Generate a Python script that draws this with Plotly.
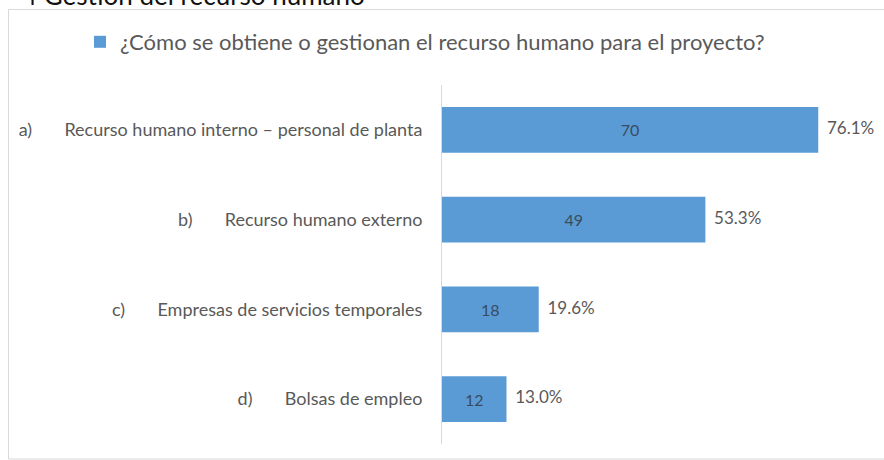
import plotly.graph_objects as go

# Survey responses: how human resources are obtained for the project
letters = ["a)", "b)", "c)", "d)"]
categories = [
    "Recurso humano interno – personal de planta",
    "Recurso humano externo",
    "Empresas de servicios temporales",
    "Bolsas de empleo",
]
counts = [70, 49, 18, 12]
respondents = 92
series_name = "¿Cómo se obtiene o gestionan el recurso humano para el proyecto?"
heading = "4 Gestión del recurso humano"

GAP = "\u00a0" * 7
labels = [f"{l}{GAP}{c}" for l, c in zip(letters, categories)]
pct_text = [f"{100 * v / respondents:.1f}%" for v in counts]

FONT = "Lato"
BLUE = "#5B9BD5"
GREY_TXT = "#595959"

W, H = 884, 460
ML, MR, MT, MB = 442, 12, 85, 16
PW, PH = W - ML - MR, H - MT - MB


def px_x(px):
    return (px - ML) / PW


def px_y(py):
    return (H - MB - py) / PH


fig = go.Figure()
fig.add_trace(go.Bar(
    x=counts, y=labels, orientation="h",
    name=series_name,
    marker=dict(color=BLUE, line=dict(width=0)),
    width=0.51,
    text=[str(v) for v in counts],
    textposition="inside", insidetextanchor="middle",
    constraintext="none",
    insidetextfont=dict(family=FONT, size=16, color="#3a4b5e"),
    showlegend=True,
))
fig.add_trace(go.Scatter(
    x=counts, y=labels, mode="text",
    text=["\u00a0\u00a0" + t for t in pct_text],
    textposition="middle right",
    textfont=dict(family=FONT, size=17, color=GREY_TXT),
    cliponaxis=False,
    showlegend=False, hoverinfo="skip",
))

fig.update_layout(
    width=W, height=H,
    margin=dict(l=ML, r=MR, t=MT, b=MB),
    paper_bgcolor="white", plot_bgcolor="white",
    font=dict(family=FONT, color=GREY_TXT),
    xaxis=dict(range=[0, 80], visible=False, fixedrange=True),
    yaxis=dict(
        categoryorder="array", categoryarray=labels[::-1],
        showline=True, linecolor="#d9d9d9", linewidth=1,
        showgrid=False, zeroline=False, ticks="",
        ticklabelstandoff=15,
        tickfont=dict(family=FONT, size=18, color=GREY_TXT),
    ),
    legend=dict(
        x=px_x(80), y=px_y(21), xanchor="left", yanchor="top",
        xref="paper", yref="paper",
        font=dict(family=FONT, size=22, color=GREY_TXT),
        bgcolor="rgba(0,0,0,0)", itemclick=False,
    ),
    shapes=[dict(
        type="rect", xref="paper", yref="paper",
        x0=px_x(8.5), x1=px_x(890), y0=px_y(459), y1=px_y(9.5),
        line=dict(color="#d9d9d9", width=1), fillcolor="rgba(0,0,0,0)",
        layer="below",
    )],
    annotations=[dict(
        text=heading, xref="paper", yref="paper",
        x=px_x(20), y=px_y(13), xanchor="left", yanchor="bottom",
        showarrow=False, font=dict(family=FONT, size=26, color="#111111"),
    )],
)

fig.write_html("out.html")
